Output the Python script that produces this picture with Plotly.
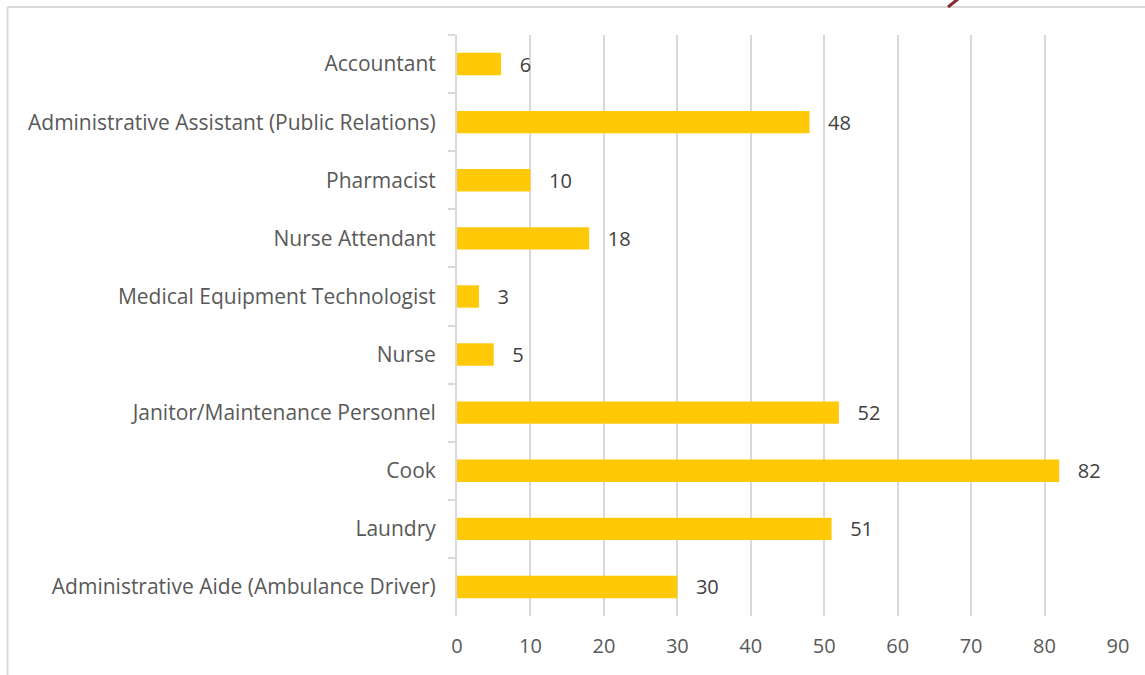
"""Horizontal bar chart: staff count by position."""
import plotly.graph_objects as go

categories = [
    "Accountant",
    "Administrative Assistant (Public Relations)",
    "Pharmacist",
    "Nurse Attendant",
    "Medical Equipment Technologist",
    "Nurse",
    "Janitor/Maintenance Personnel",
    "Cook",
    "Laundry",
    "Administrative Aide (Ambulance Driver)",
]
counts = [6, 48, 10, 18, 3, 5, 52, 82, 51, 30]
x_ticks = [0, 10, 20, 30, 40, 50, 60, 70, 80, 90]

W, H = 1145, 675
L, R, T, B = 457, 27, 35, 59
PW, PH = W - L - R, H - T - B


def px_x(p):
    return (p - L) / PW


def px_y(p):
    return 1 - (p - T) / PH


fig = go.Figure(
    go.Bar(
        x=counts, y=categories, orientation="h",
        marker=dict(color="#FFC907", line=dict(width=0)),
        width=0.385,
        texttemplate="   %{x}", textposition="outside",
        constraintext="none",
        textfont=dict(color="#404040", size=20),
        cliponaxis=False,
        hoverinfo="x+y",
    )
)

fig.update_xaxes(
    range=[0, 90], tickvals=x_ticks, showgrid=True,
    gridcolor="#D9D9D9", gridwidth=2, zeroline=False,
    showline=False, ticks="", ticklabelstandoff=16,
    tickfont=dict(color="#595959", size=20),
)
fig.update_yaxes(
    autorange="reversed", showline=True, linecolor="#D9D9D9", linewidth=2,
    ticks="outside", tickson="boundaries", ticklen=7, tickcolor="#D9D9D9",
    tickwidth=2, showgrid=False, ticklabelstandoff=15,
    tickfont=dict(color="#595959", size=21),
)

# frame of the chart area and the stray mark at the top
border = "#D9D9D9"
fig.add_shape(type="line", xref="paper", yref="paper",
              x0=px_x(7.5), x1=px_x(W + 5), y0=px_y(7), y1=px_y(7),
              line=dict(color=border, width=2))
fig.add_shape(type="line", xref="paper", yref="paper",
              x0=px_x(7.5), x1=px_x(7.5), y0=px_y(7), y1=px_y(H + 5),
              line=dict(color=border, width=2))
fig.add_shape(type="line", xref="paper", yref="paper",
              x0=px_x(948), x1=px_x(958), y0=px_y(7), y1=px_y(-1),
              line=dict(color="#8B2B2B", width=3))

fig.update_layout(
    width=W, height=H,
    margin=dict(l=L, r=R, t=T, b=B, autoexpand=False),
    paper_bgcolor="white", plot_bgcolor="white",
    font=dict(family="Open Sans, Arial", color="#595959"),
    showlegend=False, bargap=0.6,
)

fig.write_html(
    "out.html",
    config={"displayModeBar": False},
    post_script="document.body.style.margin='0';",
)
